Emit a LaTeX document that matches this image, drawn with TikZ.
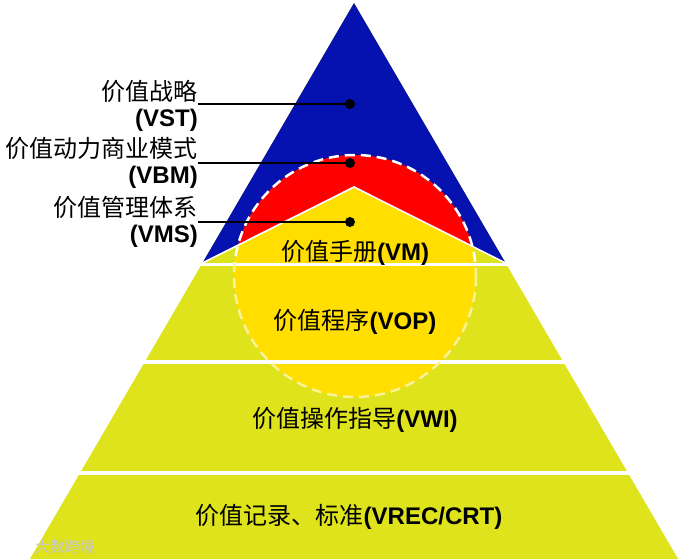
\documentclass[tikz,border=0pt]{standalone}
\usepackage{fontspec}
\setmainfont{Liberation Sans}
\newfontfamily\cjk{Noto Sans CJK SC}
\definecolor{pblue}{RGB}{5,18,175}
\definecolor{pred}{RGB}{255,0,0}
\definecolor{pgold}{RGB}{255,222,0}
\definecolor{pyg}{RGB}{222,227,28}
\definecolor{pdash}{RGB}{250,242,150}
\begin{document}
\begin{tikzpicture}[x=1pt,y=-1pt,
  lbl/.style={font=\fontsize{24}{28}\selectfont, inner sep=0pt, text=black},
  dotn/.style={circle, fill=black, minimum size=10pt, inner sep=0pt},
  leader/.style={line width=2.4pt, black},
  gap/.style={white, line width=3.5pt},
  ring/.style={line width=2.5pt, dash pattern=on 10pt off 6pt}]
\useasboundingbox (0,0) rectangle (679,559);
\coordinate (apex) at (354,3);
\coordinate (bl) at (29.9,559);
\coordinate (br) at (678.1,559);
\coordinate (ml) at (202.4,263);
\coordinate (mr) at (505.6,263);
\coordinate (chev) at (354,187);
\coordinate (cc) at (355,276);
% pyramid body
\fill[pyg] (apex) -- (bl) -- (br) -- cycle;
\fill[pblue] (apex) -- (ml) -- (mr) -- cycle;
\fill[pyg] (chev) -- (ml) -- (mr) -- cycle;
% circle: red above chevron, gold below
\begin{scope}
  \clip (-10,-10) -- (689,-10) -- (689,354.8) -- (chev) -- (-10,369.4) -- cycle;
  \fill[pred] (cc) circle (121);
\end{scope}
\begin{scope}
  \clip (-10,369.4) -- (chev) -- (689,354.8) -- (689,600) -- (-10,600) -- cycle;
  \fill[pgold] (cc) circle (121);
\end{scope}
% white separators
\draw[white, line width=1.6pt] (ml) -- (chev) -- (mr);
\draw[gap] (0,264.5) -- (679,264.5);
\draw[gap] (0,362) -- (679,362);
\draw[gap] (0,473) -- (679,473);
% dashed ring
\begin{scope}
  \clip (0,0) rectangle (679,263);
  \draw[ring, white] (cc) circle (121);
\end{scope}
\begin{scope}
  \clip (0,263) rectangle (679,559);
  \draw[ring, pdash] (cc) circle (121);
\end{scope}
% left labels
\node[lbl, anchor=base east] (t1) at (198,100) {{\cjk 价值战略}};
\node[lbl, anchor=base east] (t1b) at (198,126) {\textbf{(VST)}};
\node[lbl, anchor=base east] (t2) at (198,157) {{\cjk 价值动力商业模式}};
\node[lbl, anchor=base east] (t2b) at (198,183) {\textbf{(VBM)}};
\node[lbl, anchor=base east] (t3) at (198,216) {{\cjk 价值管理体系}};
\node[lbl, anchor=base east] (t3b) at (198,242) {\textbf{(VMS)}};
\node[dotn] (d1) at (350,104) {};
\node[dotn] (d2) at (350,163) {};
\node[dotn] (d3) at (350,222) {};
\draw[leader] (t1.base east |- d1) -- (d1.center);
\draw[leader] (t2.base east |- d2) -- (d2.center);
\draw[leader] (t3.base east |- d3) -- (d3.center);
% layer labels
\node[lbl, anchor=base] (vm) at (355,260) {{\cjk 价值手册}\textbf{(VM)}};
\node[lbl, anchor=base] (vop) at (355,329) {{\cjk 价值程序}\textbf{(VOP)}};
\node[lbl, anchor=base] (vwi) at (355,427) {{\cjk 价值操作指导}\textbf{(VWI)}};
\node[lbl, anchor=base] (vrec) at (349,524) {{\cjk 价值记录、标准}\textbf{(VREC/CRT)}};
% watermark
\node[font=\fontsize{15}{17}\selectfont\cjk, text=white!78!black, anchor=base west, inner sep=0pt] (wm) at (35,552) {大数跨境};
\end{tikzpicture}
\end{document}
